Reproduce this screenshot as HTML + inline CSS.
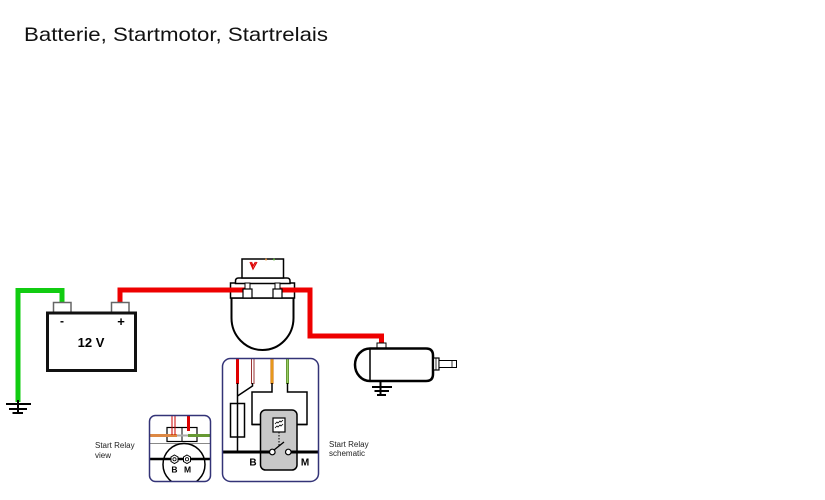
<!DOCTYPE html>
<html>
<head>
<meta charset="utf-8">
<style>
html,body{margin:0;padding:0;background:#fff;}
svg{display:block;}
</style>
</head>
<body>
<svg width="825" height="500" viewBox="0 0 825 500" xmlns="http://www.w3.org/2000/svg">
  <rect width="825" height="500" fill="#fff"/>
  <!-- Title -->
  <text x="24" y="41" font-family="Liberation Sans, DejaVu Sans, sans-serif" font-size="19.5" fill="#111" textLength="304" lengthAdjust="spacingAndGlyphs">Batterie, Startmotor, Startrelais</text>

  <!-- Green wire (battery - to ground) -->
  <path d="M18,402 V290.5 H62 V303" fill="none" stroke="#11cc11" stroke-width="5"/>
  <!-- Battery ground -->
  <line x1="18" y1="400" x2="18" y2="414" stroke="#000" stroke-width="2"/>
  <line x1="6" y1="404" x2="31" y2="404" stroke="#000" stroke-width="2"/>
  <line x1="9" y1="409" x2="27" y2="409" stroke="#000" stroke-width="2"/>
  <line x1="12.5" y1="413" x2="23" y2="413" stroke="#000" stroke-width="2"/>

  <!-- Red wire battery + to relay -->
  <path d="M120,303 V290 H244" fill="none" stroke="#ee0000" stroke-width="5"/>
  <!-- Red wire relay to motor -->
  <path d="M281,290 H310 V336 H381.5 V344" fill="none" stroke="#ee0000" stroke-width="5"/>

  <!-- Battery -->
  <rect x="53.5" y="302.5" width="17.5" height="10" fill="#fff" stroke="#666" stroke-width="1.5"/>
  <rect x="111.5" y="302.5" width="17.5" height="10" fill="#fff" stroke="#666" stroke-width="1.5"/>
  <rect x="47.5" y="313" width="88" height="57.5" fill="#fff" stroke="#111" stroke-width="3"/>
  <text x="62" y="325" font-family="Liberation Sans, sans-serif" font-size="12" font-weight="bold" text-anchor="middle">-</text>
  <text x="121" y="326" font-family="Liberation Sans, sans-serif" font-size="13" font-weight="bold" text-anchor="middle">+</text>
  <text x="91" y="347" font-family="Liberation Sans, DejaVu Sans, sans-serif" font-size="13" font-weight="bold" text-anchor="middle">12 V</text>

  <!-- Relay (solenoid) -->
  <path d="M231.5,293 V318 A31,32 0 0 0 293.5,318 V293" fill="#fff" stroke="#000" stroke-width="2"/>
  <line x1="231.5" y1="298" x2="293.5" y2="298" stroke="#000" stroke-width="1.5"/>
  <rect x="230.5" y="283" width="64" height="15" fill="#fff" stroke="#000" stroke-width="1.5"/>
  <path d="M235.5,283.5 V281 Q235.5,278 238.5,278 H287 Q290,278 290,281 V283.5 Z" fill="#fff" stroke="#000" stroke-width="1.5"/>
  <rect x="242" y="259" width="41.5" height="19" fill="#fff" stroke="#000" stroke-width="1.5"/>
  <path d="M250,262 L253,269 L257,262 M251.5,262 L253,266 L255.5,262" fill="none" stroke="#dd0000" stroke-width="1.2"/>
  <circle cx="266" cy="259.5" r="1" fill="#dd8833"/>
  <circle cx="274" cy="259.5" r="1" fill="#55aa33"/>
  <line x1="229" y1="290" x2="246" y2="290" stroke="#ee0000" stroke-width="5"/>
  <line x1="279" y1="290" x2="296" y2="290" stroke="#ee0000" stroke-width="5"/>
  <rect x="245" y="283" width="5" height="6" fill="#fff" stroke="#000" stroke-width="1"/>
  <rect x="275" y="283" width="5" height="6" fill="#fff" stroke="#000" stroke-width="1"/>
  <rect x="243" y="289" width="9" height="9" fill="#fff" stroke="#000" stroke-width="1.2"/>
  <rect x="273" y="289" width="9" height="9" fill="#fff" stroke="#000" stroke-width="1.2"/>

  <!-- Motor -->
  <rect x="377" y="343" width="9" height="5" fill="#fff" stroke="#000" stroke-width="1"/>
  <path d="M370,348.5 H426 Q433,348.5 433,355.5 V374 Q433,381 426,381 H370 A15,16.25 0 0 1 370,348.5 Z" fill="#fff" stroke="#000" stroke-width="2.5"/>
  <line x1="370" y1="349" x2="370" y2="381" stroke="#000" stroke-width="1.5"/>
  <rect x="433.5" y="358" width="5.5" height="12" fill="#fff" stroke="#000" stroke-width="1.2"/>
  <line x1="436" y1="358" x2="436" y2="370" stroke="#000" stroke-width="0.8"/>
  <rect x="439" y="360.5" width="17.5" height="7" fill="#fff" stroke="#000" stroke-width="1"/>
  <line x1="452" y1="360.5" x2="452" y2="367.5" stroke="#000" stroke-width="0.8"/>
  <line x1="380.5" y1="381" x2="380.5" y2="396" stroke="#000" stroke-width="2"/>
  <line x1="372" y1="387" x2="392" y2="387" stroke="#000" stroke-width="2"/>
  <line x1="374.5" y1="391" x2="389" y2="391" stroke="#000" stroke-width="2"/>
  <line x1="377" y1="395" x2="386" y2="395" stroke="#000" stroke-width="2"/>

  <defs>
    <clipPath id="vclip"><rect x="149.5" y="415.5" width="61" height="66" rx="6"/></clipPath>
    <clipPath id="sclip"><rect x="222.5" y="358.5" width="96" height="123" rx="8"/></clipPath>
  </defs>
  <g clip-path="url(#vclip)">
    <rect x="149.5" y="415.5" width="61" height="66" fill="#fff"/>
    <line x1="149" y1="443.5" x2="211" y2="443.5" stroke="#888" stroke-width="1"/>
    <circle cx="184" cy="464.5" r="21" fill="#fff" stroke="#000" stroke-width="1.5"/>
    <line x1="149" y1="459" x2="211" y2="459" stroke="#000" stroke-width="2.5"/>
    <rect x="167" y="427.5" width="30" height="14" fill="#fff" stroke="#000" stroke-width="1.2"/>
    <line x1="182" y1="427.5" x2="182" y2="441.5" stroke="#000" stroke-width="1"/>
    <line x1="149" y1="435.5" x2="177" y2="435.5" stroke="#dd8844" stroke-width="3"/>
    <line x1="177" y1="435.5" x2="188" y2="435.5" stroke="#aaa" stroke-width="2"/>
    <line x1="188" y1="435.5" x2="211" y2="435.5" stroke="#669933" stroke-width="3"/>
    <path d="M172,415 V435 M175,415 V435" stroke="#cc0000" stroke-width="1"/>
    <line x1="188.5" y1="415" x2="188.5" y2="431" stroke="#dd0000" stroke-width="3"/>
    <polygon points="174.5,455 178,457 178,461.5 174.5,463.5 171,461.5 171,457" fill="#fff" stroke="#000" stroke-width="1"/>
    <circle cx="174.5" cy="459.3" r="1.6" fill="#fff" stroke="#000" stroke-width="0.8"/>
    <polygon points="187,455 190.5,457 190.5,461.5 187,463.5 183.5,461.5 183.5,457" fill="#fff" stroke="#000" stroke-width="1"/>
    <circle cx="187" cy="459.3" r="1.6" fill="#fff" stroke="#000" stroke-width="0.8"/>
    <text x="174.5" y="472.5" font-family="Liberation Sans, sans-serif" font-size="8.5" font-weight="bold" text-anchor="middle">B</text>
    <text x="187.5" y="472.5" font-family="Liberation Sans, sans-serif" font-size="8.5" font-weight="bold" text-anchor="middle">M</text>
  </g>
  <rect x="149.5" y="415.5" width="61" height="66" rx="6" fill="none" stroke="#333377" stroke-width="1.5"/>

  <text font-family="Liberation Sans, DejaVu Sans, sans-serif" font-size="8" fill="#222">
    <tspan x="95" y="448">Start Relay</tspan>
    <tspan x="95" y="458">view</tspan>
  </text>

  <g clip-path="url(#sclip)">
    <rect x="222.5" y="358.5" width="96" height="123" fill="#fff"/>
    <line x1="237.5" y1="358" x2="237.5" y2="384" stroke="#e00000" stroke-width="3"/>
    <path d="M251.5,358 V384 M254,358 V384" stroke="#993333" stroke-width="1"/>
    <line x1="272" y1="358" x2="272" y2="384" stroke="#cc6600" stroke-width="3"/>
    <line x1="272" y1="358" x2="272" y2="384" stroke="#ffcc33" stroke-width="1"/>
    <line x1="287.5" y1="358" x2="287.5" y2="384" stroke="#669933" stroke-width="3"/>
    <line x1="287.5" y1="358" x2="287.5" y2="384" stroke="#99cc66" stroke-width="1"/>
    <g fill="none" stroke="#000" stroke-width="1.5">
      <line x1="237.5" y1="383" x2="237.5" y2="452"/>
      <path d="M252.5,383 V386 L237.5,396"/>
      <rect x="230.5" y="403.5" width="14" height="33.5" fill="#fff"/>
      <line x1="237.5" y1="403.5" x2="237.5" y2="437"/>
      <path d="M272,383 V392 H252 V424.5 H274"/>
      <path d="M287.5,383 V392 H307 V424.5 H285"/>
    </g>
    <rect x="260.5" y="410" width="36.5" height="60" rx="5" fill="#c8c8c8" stroke="#000" stroke-width="1.5"/>
    <path d="M260.5,424.5 H252 M297,424.5 H307" stroke="#000" stroke-width="1.5"/>
    <rect x="273" y="418" width="12" height="14" fill="#fff" stroke="#000" stroke-width="1.2"/>
    <path d="M275,424 L277,422 L278,423 L280,421 L281,422 L283,420 M275,428 L277,426 L278,427 L280,425 L281,426 L283,424" fill="none" stroke="#000" stroke-width="0.8"/>
    <line x1="279" y1="432" x2="279" y2="446" stroke="#000" stroke-width="1" stroke-dasharray="1.5,1.5"/>
    <line x1="222" y1="452" x2="269.5" y2="452" stroke="#000" stroke-width="3"/>
    <line x1="291" y1="452" x2="319" y2="452" stroke="#000" stroke-width="3"/>
    <line x1="274" y1="450" x2="284" y2="442" stroke="#000" stroke-width="1.3"/>
    <circle cx="272.3" cy="452" r="2.8" fill="#fff" stroke="#000" stroke-width="1.2"/>
    <circle cx="288.3" cy="452" r="2.8" fill="#fff" stroke="#000" stroke-width="1.2"/>
    <text x="253" y="465.5" font-family="Liberation Sans, sans-serif" font-size="10" font-weight="bold" text-anchor="middle">B</text>
    <text x="305" y="465.5" font-family="Liberation Sans, sans-serif" font-size="10" font-weight="bold" text-anchor="middle">M</text>
  </g>
  <rect x="222.5" y="358.5" width="96" height="123" rx="8" fill="none" stroke="#333377" stroke-width="1.5"/>

  <text font-family="Liberation Sans, DejaVu Sans, sans-serif" font-size="8" fill="#222">
    <tspan x="329" y="447">Start Relay</tspan>
    <tspan x="329" y="456">schematic</tspan>
  </text>
</svg>
</body>
</html>
